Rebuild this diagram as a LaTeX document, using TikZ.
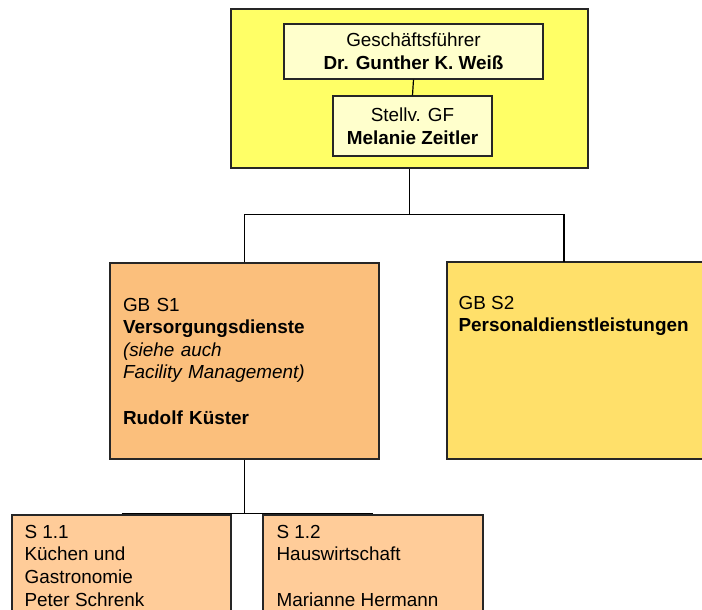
\documentclass[tikz,border=0pt]{standalone}
\usepackage{fontspec}
\setmainfont{Liberation Sans}
\usepackage{xcolor}
\usetikzlibrary{positioning}
\definecolor{gfyellow}{HTML}{FFFF66}
\definecolor{gfcream}{HTML}{FFFFCC}
\definecolor{sorange}{HTML}{FBBF7C}
\definecolor{sgold}{HTML}{FFE06A}
\definecolor{speach}{HTML}{FFCC99}
\tikzset{
    unitbox/.style={draw=black!85, line width=1.2pt, rectangle, inner sep=0pt},
    boxtext/.style={inner sep=0pt, align=left, font=\fontsize{18.9}{22.6}\selectfont},
    conn/.style={line width=1.7pt, black}
}

\begin{document}
\begin{tikzpicture}[x=1pt,y=-1pt]
\clip (0,0) rectangle (702,610);
% === TOP: Geschaeftsfuehrung ===
\node[unitbox, fill=gfyellow, minimum width=357pt, minimum height=159pt] (top) at (409.5,88.5) {};
\node[unitbox, fill=gfcream, minimum width=259pt, minimum height=55pt, align=center,
      font=\fontsize{18.9}{23}\selectfont] (gf) at (413.5,51.5)
    {Geschäftsführer\\\textbf{Dr. Gunther K. Weiß}};
\node[unitbox, fill=gfcream, minimum width=159pt, minimum height=60pt, align=center,
      font=\fontsize{18.9}{22.5}\selectfont] (stv) at (412.5,126)
    {Stellv. GF\\\textbf{Melanie Zeitler}};
\draw[conn, line width=1.2pt] (gf.south) -- (stv.north);
% === MIDDLE: Geschaeftsbereiche ===
\node[unitbox, fill=sorange, minimum width=269pt, minimum height=196pt,
      text width=243pt, inner xsep=13pt, boxtext] (s1) at (244.5,361)
    {GB S1\\\textbf{Versorgungsdienste}\\\textit{(siehe auch}\\\textit{Facility Management)}\\[22.6pt]\textbf{Rudolf Küster}};
\node[unitbox, fill=sgold, minimum width=273pt, minimum height=197pt] (s2) at (583.5,360.5) {};
\node[boxtext, below right=34.5pt and 12pt of s2.north west] (s2txt)
    {GB S2\\\textbf{Personaldienstleistungen}};
\coordinate (s2in) at (564,262);
\draw[conn] (top.south) -- ++(0,46) coordinate (split);
\draw[conn] (s1.north) |- (split) -| (s2in);
% === BOTTOM: Sachgebiete S1 ===
\node[unitbox, fill=speach, minimum width=219pt, minimum height=125pt] (s11) at (121.5,577.5) {};
\node[unitbox, fill=speach, minimum width=220pt, minimum height=125pt] (s12) at (373,577.5) {};
\node[boxtext, below right=10.5pt and 13pt of s11.north west] (s11txt)
    {S 1.1\\Küchen und\\Gastronomie\\Peter Schrenk};
\node[boxtext, below right=10.5pt and 14pt of s12.north west] (s12txt)
    {S 1.2\\Hauswirtschaft\\[22.6pt]Marianne Hermann};
\draw[conn] (s1.south) -- ++(0,54) coordinate (subsplit);
\draw[conn] (s11.north |- subsplit) -- (s12.north |- subsplit);
\end{tikzpicture}
\end{document}
